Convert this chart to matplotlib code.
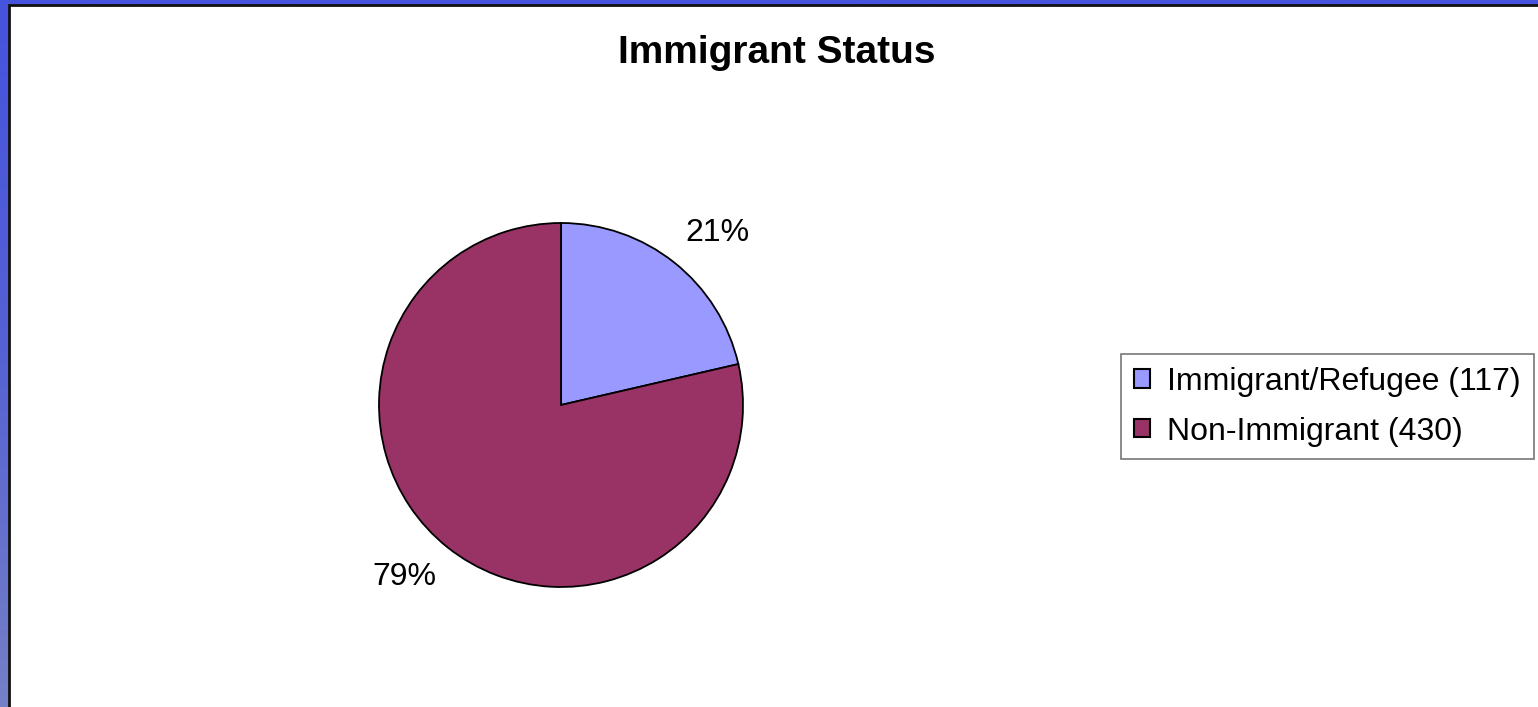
import matplotlib.pyplot as plt
import numpy as np
from matplotlib.colors import LinearSegmentedColormap
from matplotlib.patches import Rectangle

plt.rcParams['font.family'] = ['Liberation Sans', 'DejaVu Sans']

# Data
categories = ["Immigrant/Refugee", "Non-Immigrant"]
counts = [117, 430]
colors = ["#9999ff", "#993366"]
title = "Immigrant Status"

W, H = 1538, 707
fig = plt.figure(figsize=(W / 100, H / 100), dpi=100)

# Blue slide background behind the chart area
bg = fig.add_axes([0, 0, 1, 1], zorder=-2)
bg_cmap = LinearSegmentedColormap.from_list("slide", ["#4553de", "#5661d4", "#7480c6"])
grad = np.linspace(0, 1, 256).reshape(-1, 1)
bg.imshow(grad, aspect="auto", cmap=bg_cmap, extent=[0, 1, 0, 1], origin="upper")
bg.set_axis_off()

# White chart area with dark frame
fig.patches.append(Rectangle((9 / W, -0.01), 1.01, 1 - 5 / H + 0.01,
                             transform=fig.transFigure, facecolor="white",
                             edgecolor="#111111", linewidth=2, zorder=-1))

fig.text(777 / W, 1 - 63 / H, title, ha="center", va="baseline",
         fontsize=28, fontweight="bold")

# Pie chart
ax = fig.add_axes([379 / W, 1 - 587 / H, 364 / W, 364 / H])
labels = [f"{c} ({n})" for c, n in zip(categories, counts)]
wedges, _, autotexts = ax.pie(counts, colors=colors, startangle=90, counterclock=False,
                              autopct="%.0f%%", pctdistance=1.1,
                              wedgeprops=dict(edgecolor="black", linewidth=1.3),
                              textprops=dict(fontsize=23))

# Anchor each percentage by its inner corner just outside the rim
for w, t in zip(wedges, autotexts):
    mid = np.deg2rad((w.theta1 + w.theta2) / 2)
    t.set_ha("left" if np.cos(mid) > 0 else "right")
    t.set_va("bottom" if np.sin(mid) > 0 else "top")

ax.set_xlim(-1, 1)
ax.set_ylim(-1, 1)
ax.set_aspect("equal")

# Legend on the right
leg = fig.legend(wedges, labels, loc="upper left",
                 bbox_to_anchor=(1121 / W, 1 - 354 / H), borderaxespad=0,
                 fontsize=23, frameon=True, fancybox=False, shadow=False,
                 handlelength=0.5, handleheight=0.5, handletextpad=0.55,
                 borderpad=0.4, labelspacing=0.62)
leg.get_frame().set_edgecolor("#555555")
leg.get_frame().set_linewidth(1.2)
for h in leg.legend_handles:
    h.set_edgecolor("black")
    h.set_linewidth(1.5)

fig.savefig("out.png", dpi=100)
